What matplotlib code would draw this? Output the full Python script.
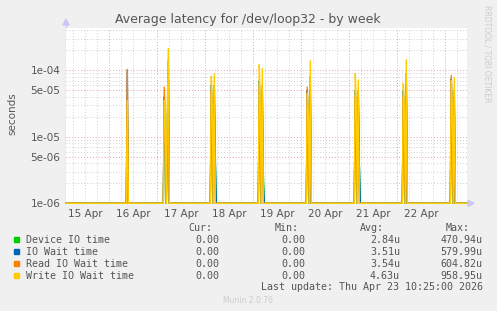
import numpy as np
import matplotlib
matplotlib.use("Agg")
import matplotlib.pyplot as plt
from matplotlib.lines import Line2D
from matplotlib.patches import Rectangle, Polygon

W, H = 497, 311

# time axis: days after 15 Apr 00:00
window = (0.098, 8.446)
day_labels = ["15 Apr", "16 Apr", "17 Apr", "18 Apr", "19 Apr", "20 Apr", "21 Apr", "22 Apr"]

# start of each nightly burst (days), samples are 30 min apart
burst_start = [1.375, 2.1458, 3.125, 4.125, 5.125, 6.125, 7.125, 8.125]

device_io = [
    [2.5e-5],
    [2.0e-5, 1.0e-5, 0.0, 1.0e-5, 9.0e-5],
    [3.0e-5, 1.0e-5, 0.0, 3.0e-5, 4.0e-6],
    [4.0e-5, 1.0e-5, 0.0, 3.0e-5, 3.0e-6],
    [2.0e-5, 1.0e-5, 0.0, 5.0e-5],
    [3.5e-5, 1.0e-5, 0.0, 3.0e-5, 4.0e-6],
    [2.5e-5, 1.0e-5, 0.0, 6.0e-5],
    [3.0e-5, 1.0e-5, 0.0, 3.0e-5],
]
io_wait = [
    [1.0e-4],
    [4.0e-5, 1.5e-5, 0.0, 1.5e-5, 1.4e-4],
    [6.0e-5, 2.0e-5, 0.0, 6.0e-5, 5.0e-6],
    [7.0e-5, 2.0e-5, 0.0, 6.0e-5, 2.0e-6],
    [5.0e-5, 1.5e-5, 0.0, 8.0e-5],
    [5.0e-5, 2.0e-5, 0.0, 5.0e-5, 4.0e-6],
    [5.0e-5, 2.0e-5, 0.0, 9.0e-5],
    [7.5e-5, 2.0e-5, 0.0, 5.0e-5],
]
read_wait = [
    [1.04e-4],
    [5.6e-5, 1.0e-5, 0.0, 1.0e-5, 2.0e-5],
    [5.0e-5, 1.5e-5, 0.0, 5.0e-5],
    [6.0e-5, 1.0e-5, 0.0, 5.0e-5],
    [5.6e-5, 1.0e-5, 0.0, 2.0e-5],
    [4.0e-5, 1.0e-5, 0.0, 4.0e-5],
    [4.0e-5, 1.0e-5, 0.0, 5.0e-5],
    [8.4e-5, 1.5e-5, 0.0, 4.0e-5],
]
write_wait = [
    [3.5e-5],
    [3.5e-5, 3.0e-5, 0.0, 2.5e-5, 2.14e-4],
    [8.2e-5, 3.0e-5, 0.0, 8.9e-5],
    [1.23e-4, 3.0e-5, 0.0, 1.07e-4],
    [4.5e-5, 2.5e-5, 0.0, 1.4e-4],
    [9.0e-5, 3.0e-5, 0.0, 7.2e-5],
    [6.4e-5, 3.0e-5, 0.0, 1.45e-4],
    [7.0e-5, 3.0e-5, 0.0, 7.85e-5],
]

series_names = ["Device IO time", "IO Wait time", "Read IO Wait time", "Write IO Wait time"]
series_colors = ["#00cc00", "#0066b3", "#ff8000", "#ffcc00"]
cur_vals = ["0.00", "0.00", "0.00", "0.00"]
min_vals = ["0.00", "0.00", "0.00", "0.00"]
avg_vals = ["2.84u", "3.51u", "3.54u", "4.63u"]
max_vals = ["470.94u", "579.99u", "604.82u", "958.95u"]

y_min, y_max = 1e-6, 4.4e-4
step = 1 / 48


def build(bursts):
    t, v = [window[0]], [0.0]
    for start, vals in zip(burst_start, bursts):
        t.append(start - step)
        v.append(0.0)
        for i, val in enumerate(vals):
            t.append(start + i * step)
            v.append(val)
        t.append(start + len(vals) * step)
        v.append(0.0)
    t.append(window[1])
    v.append(0.0)
    return np.array(t), np.maximum(np.array(v), y_min)


def fx(px):
    return px / W


def fy(py):
    return 1 - py / H


fig = plt.figure(figsize=(W / 100, H / 100), dpi=100, facecolor="#f0f0f0")
ax = fig.add_axes([fx(66), fy(203.3), (466.7 - 66) / W, (203.3 - 27.7) / H])
ax.set_facecolor("white")
ax.set_yscale("log")
ax.set_xlim(*window)
ax.set_ylim(y_min, y_max)

# grid: 6h minor, midnight major; 1..9 minor per decade, 1 and 5 major
minor_c, major_c = "#d0d0d0", "#e4a4a4"
dots = (0, (1, 2))
for d in np.arange(0, 9, 0.25):
    if window[0] < d < window[1]:
        is_major = abs(d - round(d)) < 1e-9
        ax.axvline(d, color=major_c if is_major else minor_c, lw=0.7, ls=dots, zorder=1)
for e in range(-6, -3):
    for m in range(1, 10):
        y = m * 10.0 ** e
        if y_min <= y <= y_max:
            ax.axhline(y, color=major_c if m in (1, 5) else minor_c, lw=0.7, ls=dots, zorder=1)

for bursts, color in zip([device_io, io_wait, read_wait, write_wait], series_colors):
    t, v = build(bursts)
    ax.plot(t, v, color=color, lw=1.0, clip_on=False, zorder=3)

for s in ax.spines.values():
    s.set_visible(False)

ax.set_xticks([i + 0.5 for i in range(len(day_labels))])
ax.set_xticklabels(day_labels)
ax.set_yticks([1e-6, 5e-6, 1e-5, 5e-5, 1e-4])
ax.set_yticklabels(["1e-06", "5e-06", "1e-05", "5e-05", "1e-04"])
ax.minorticks_off()
ax.tick_params(length=0, labelsize=7.5, colors="#555555", pad=4)

# axis line and arrows
axis_c = "#c8c8f0"
fig.add_artist(Line2D([fx(66), fx(66)], [fy(203.3), fy(24)], color=axis_c, lw=1, transform=fig.transFigure, zorder=0))
fig.add_artist(Polygon([[fx(63), fy(25)], [fx(69), fy(25)], [fx(66), fy(19)]], closed=True, color=axis_c, transform=fig.transFigure))
fig.add_artist(Polygon([[fx(468), fy(200.3)], [fx(468), fy(206.3)], [fx(474), fy(203.3)]], closed=True, color=axis_c, transform=fig.transFigure))

fig.text(fx(248), fy(19), "Average latency for /dev/loop32 - by week", ha="center", va="center", fontsize=9, color="#555555")
fig.text(fx(12), fy(114), "seconds", rotation=90, ha="center", va="center", fontsize=7.5, color="#555555")
fig.text(fx(487), fy(5), "RRDTOOL / TOBI OETIKER", rotation=270, ha="center", va="top", fontsize=5.5, color="#cccccc")

mono = dict(family="DejaVu Sans Mono", fontsize=7.2, color="#555555", va="center")
fig.text(fx(212.7), fy(228.3), "Cur:", ha="right", **mono)
fig.text(fx(298.3), fy(228.3), "Min:", ha="right", **mono)
fig.text(fx(384.3), fy(228.3), "Avg:", ha="right", **mono)
fig.text(fx(470), fy(228.3), "Max:", ha="right", **mono)
for i, name in enumerate(series_names):
    y = 239.7 + i * 12
    fig.add_artist(Rectangle((fx(14), fy(y + 2.7)), 5.3 / W, 5.3 / H, color=series_colors[i], transform=fig.transFigure))
    fig.text(fx(26), fy(y), name, ha="left", **mono)
    fig.text(fx(219.3), fy(y), cur_vals[i], ha="right", **mono)
    fig.text(fx(305), fy(y), min_vals[i], ha="right", **mono)
    fig.text(fx(400), fy(y), avg_vals[i], ha="right", **mono)
    fig.text(fx(482.7), fy(y), max_vals[i], ha="right", **mono)
fig.text(fx(482.7), fy(287.3), "Last update: Thu Apr 23 10:25:00 2026", ha="right", **mono)
fig.text(fx(248), fy(300.3), "Munin 2.0.76", ha="center", va="center", fontsize=5.5, color="#cccccc")

fig.savefig("out.png", dpi=100, facecolor=fig.get_facecolor())
